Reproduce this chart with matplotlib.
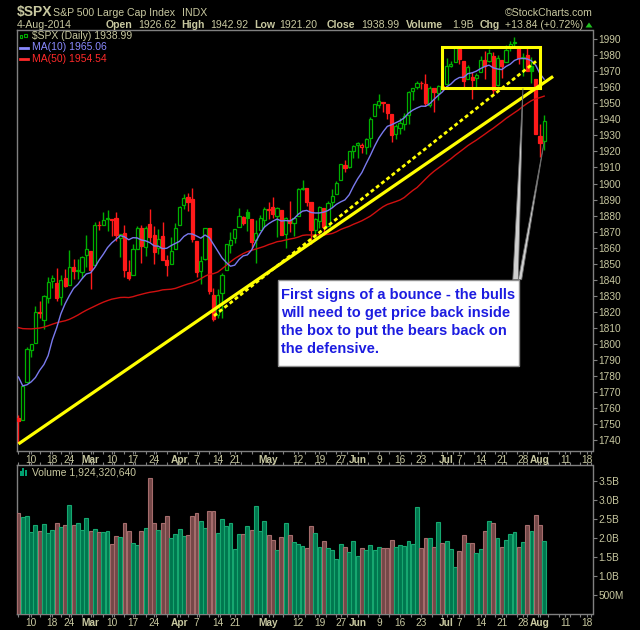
import numpy as np
import pandas as pd
import matplotlib
matplotlib.use("Agg")
import matplotlib.pyplot as plt
from matplotlib.patches import Rectangle, Polygon

plt.rcParams["font.family"] = ["Liberation Sans", "DejaVu Sans"]

# --- data -----------------------------------------------------------------
# closes before the first candle (needed to start the moving averages)
prior_closes = [
    1804.76, 1802.48, 1802.75, 1807.23, 1805.81,
    1800.90, 1795.15, 1792.81, 1785.03, 1805.09, 1808.37, 1802.62, 1782.22,
    1775.50, 1775.32, 1786.54, 1781.00, 1810.65, 1809.60, 1818.32, 1827.99,
    1833.32, 1842.02, 1841.40, 1841.07, 1848.36,
    1831.98, 1831.37, 1826.77, 1837.88, 1837.49, 1838.13, 1842.37, 1819.20,
    1838.88, 1848.38, 1845.89, 1838.70, 1843.80, 1844.86, 1828.46, 1790.29,
    1781.56, 1792.50, 1774.20, 1794.19, 1782.59,
    1741.89, 1755.20,
]

opens = [
    1753.38, 1752.62, 1776.01, 1796.20, 1800.45, 1820.12, 1814.82, 1828.46, 1839.03, 1838.22,
    1829.24, 1841.07, 1836.78, 1847.66, 1845.79, 1844.90, 1855.12, 1857.68, 1849.23, 1874.05,
    1874.18, 1878.52, 1877.86, 1878.26, 1866.15, 1869.06, 1845.07, 1842.81, 1858.92, 1872.25,
    1860.09, 1874.53, 1867.67, 1859.48, 1867.09, 1852.11, 1850.07, 1859.16, 1873.96, 1886.61,
    1891.43, 1890.25, 1863.92, 1845.48, 1852.64, 1872.28, 1830.65, 1818.18, 1831.45, 1846.01,
    1861.73, 1865.79, 1872.57, 1879.32, 1881.97, 1877.72, 1865.00, 1870.78, 1877.10, 1884.39,
    1885.30, 1879.45, 1883.69, 1868.53, 1877.39, 1875.27, 1880.03, 1896.75, 1897.13, 1888.16,
    1871.19, 1876.66, 1884.88, 1873.34, 1888.19, 1893.32, 1902.01, 1911.77, 1910.60, 1920.33,
    1923.87, 1923.07, 1923.06, 1928.52, 1942.41, 1948.97, 1950.34, 1949.37, 1943.35, 1930.80,
    1934.84, 1937.15, 1942.73, 1957.50, 1960.45, 1962.92, 1961.97, 1949.27, 1959.89, 1956.56,
    1960.79, 1962.29, 1973.06, 1975.88, 1984.22, 1976.39, 1965.10, 1966.67, 1965.76, 1969.86,
    1977.36, 1976.35, 1979.75, 1961.54, 1976.93, 1975.65, 1985.32, 1988.07, 1984.60, 1978.25,
    1980.03, 1973.21, 1965.14, 1929.80, 1926.62,
]
highs = [
    1755.79, 1774.06, 1798.03, 1799.94, 1823.54, 1826.55, 1830.25, 1841.65, 1842.87, 1847.50,
    1842.79, 1846.87, 1858.71, 1852.91, 1852.65, 1854.53, 1867.92, 1857.68, 1876.23, 1876.53,
    1881.94, 1883.57, 1877.87, 1882.35, 1868.38, 1874.40, 1852.44, 1862.30, 1873.76, 1874.14,
    1873.49, 1883.97, 1873.34, 1871.87, 1875.92, 1855.55, 1866.63, 1875.18, 1885.84, 1893.17,
    1893.80, 1897.28, 1864.04, 1854.95, 1872.43, 1872.53, 1835.07, 1834.19, 1844.02, 1862.31,
    1869.63, 1871.89, 1884.89, 1879.75, 1884.06, 1877.72, 1877.01, 1880.60, 1885.20, 1888.59,
    1891.33, 1885.51, 1883.69, 1878.83, 1889.07, 1878.57, 1897.13, 1902.17, 1897.13, 1888.16,
    1878.28, 1886.00, 1884.88, 1888.80, 1896.33, 1901.26, 1912.28, 1914.46, 1920.03, 1924.03,
    1925.88, 1925.07, 1928.63, 1941.74, 1949.44, 1955.55, 1950.86, 1949.37, 1943.35, 1937.30,
    1941.15, 1943.69, 1957.74, 1959.87, 1963.91, 1963.74, 1968.17, 1960.83, 1959.89, 1961.47,
    1964.24, 1978.58, 1976.67, 1985.59, 1984.22, 1976.39, 1974.15, 1969.84, 1968.67, 1979.85,
    1982.52, 1983.94, 1981.80, 1979.91, 1976.93, 1986.24, 1989.23, 1991.39, 1984.60, 1981.52,
    1984.85, 1978.90, 1965.14, 1937.35, 1942.92,
]
lows = [
    1737.92, 1752.62, 1776.01, 1791.83, 1800.41, 1815.97, 1809.22, 1825.59, 1835.01, 1826.99,
    1824.17, 1835.60, 1836.78, 1840.19, 1840.66, 1841.13, 1847.67, 1834.44, 1849.23, 1871.11,
    1874.18, 1870.56, 1867.04, 1863.88, 1854.38, 1841.86, 1839.57, 1842.81, 1858.92, 1850.35,
    1854.63, 1863.46, 1849.69, 1855.96, 1852.56, 1842.11, 1850.07, 1859.16, 1873.96, 1883.79,
    1882.65, 1863.26, 1841.48, 1837.49, 1852.38, 1830.87, 1814.36, 1815.80, 1816.29, 1846.01,
    1856.72, 1863.18, 1872.57, 1873.91, 1870.24, 1859.70, 1850.61, 1870.78, 1872.69, 1878.04,
    1878.50, 1866.77, 1867.72, 1859.79, 1870.05, 1867.02, 1880.03, 1896.06, 1885.77, 1862.36,
    1864.82, 1872.42, 1868.14, 1873.34, 1885.39, 1893.32, 1902.01, 1907.30, 1909.82, 1915.98,
    1915.98, 1918.79, 1918.60, 1922.93, 1942.41, 1947.16, 1944.64, 1940.08, 1925.78, 1927.69,
    1930.91, 1933.55, 1937.36, 1952.26, 1959.17, 1958.89, 1948.34, 1947.49, 1944.69, 1952.18,
    1958.22, 1962.29, 1972.58, 1975.88, 1974.88, 1959.46, 1965.10, 1952.86, 1959.63, 1969.86,
    1965.34, 1975.67, 1955.59, 1960.82, 1965.77, 1975.65, 1982.44, 1985.79, 1974.37, 1967.31,
    1969.95, 1962.42, 1930.67, 1916.37, 1921.20,
]
closes = [
    1751.64, 1773.43, 1797.02, 1799.84, 1819.75, 1819.26, 1829.83, 1838.63, 1840.76, 1828.75,
    1839.78, 1836.25, 1847.61, 1845.12, 1845.16, 1854.29, 1859.45, 1845.73, 1873.91, 1873.81,
    1877.03, 1878.04, 1877.17, 1867.63, 1868.20, 1846.34, 1841.13, 1858.83, 1872.25, 1860.77,
    1872.01, 1866.52, 1857.44, 1865.62, 1852.56, 1849.04, 1857.62, 1872.34, 1885.52, 1890.90,
    1888.77, 1865.09, 1845.04, 1851.96, 1872.18, 1833.08, 1815.69, 1830.61, 1842.98, 1862.31,
    1864.85, 1871.89, 1879.55, 1875.39, 1878.61, 1863.40, 1869.43, 1878.33, 1883.95, 1883.68,
    1881.14, 1884.66, 1867.72, 1878.21, 1875.63, 1878.48, 1896.65, 1897.45, 1888.53, 1870.85,
    1877.86, 1885.08, 1872.83, 1888.03, 1892.49, 1900.53, 1911.91, 1909.78, 1920.03, 1923.57,
    1924.97, 1924.24, 1927.88, 1940.46, 1949.44, 1951.27, 1950.79, 1943.89, 1930.11, 1936.16,
    1937.78, 1941.99, 1956.98, 1959.48, 1962.87, 1962.61, 1949.98, 1959.53, 1957.22, 1960.96,
    1960.23, 1973.32, 1974.62, 1985.44, 1977.65, 1963.71, 1972.83, 1964.68, 1967.57, 1977.10,
    1973.28, 1981.57, 1958.12, 1978.22, 1973.63, 1983.53, 1987.01, 1987.98, 1978.34, 1978.91,
    1969.95, 1970.07, 1930.67, 1925.15, 1938.99,
]
# volume in billions of shares
volumes_b = [
    2.64, 2.54, 2.56, 2.14, 2.33, 2.17, 2.35, 2.12, 2.20, 2.38,
    2.27, 2.33, 2.85, 2.33, 2.38, 2.20, 2.51, 2.17, 2.22, 2.14,
    2.14, 2.17, 1.83, 2.04, 2.01, 2.38, 2.17, 1.85, 1.80, 2.17,
    2.25, 3.57, 2.38, 2.20, 2.38, 2.56, 1.98, 2.09, 2.22, 2.04,
    2.06, 2.56, 2.64, 2.43, 2.25, 2.70, 2.70, 2.12, 2.49, 2.30,
    2.38, 1.69, 2.09, 2.09, 2.30, 2.20, 2.83, 2.17, 2.43, 2.06,
    1.93, 1.67, 2.01, 2.38, 2.06, 1.88, 1.83, 1.77, 1.72, 2.30,
    2.12, 1.75, 1.91, 1.73, 1.67, 1.44, 1.83, 1.75, 1.62, 1.91,
    1.52, 1.73, 1.67, 1.81, 1.67, 1.75, 1.73, 1.73, 1.94, 1.75,
    1.81, 1.78, 1.91, 1.83, 2.81, 1.73, 1.99, 1.99, 1.75, 2.41,
    1.86, 1.91, 1.70, 1.23, 1.65, 2.07, 1.86, 1.86, 1.60, 1.70,
    2.18, 2.44, 2.39, 1.99, 1.75, 1.94, 2.10, 2.15, 1.75, 1.89,
    2.34, 2.18, 2.60, 2.34, 1.924,
]

holidays = ["2014-02-17", "2014-04-18", "2014-05-26", "2014-07-04"]
tick_dates = [
    "2014-02-10", "2014-02-18", "2014-02-24", "2014-03-03", "2014-03-10",
    "2014-03-17", "2014-03-24", "2014-04-01", "2014-04-07", "2014-04-14",
    "2014-04-21", "2014-05-01", "2014-05-12", "2014-05-19", "2014-05-27",
    "2014-06-02", "2014-06-09", "2014-06-16", "2014-06-23", "2014-07-01",
    "2014-07-07", "2014-07-14", "2014-07-21", "2014-07-28", "2014-08-01",
    "2014-08-11", "2014-08-18",
]
tick_labels = [
    "10", "18", "24", "Mar", "10", "17", "24", "Apr", "7", "14", "21", "May",
    "12", "19", "27", "Jun", "9", "16", "23", "Jul", "7", "14", "21", "28",
    "Aug", "11", "18",
]
months = {"Mar", "Apr", "May", "Jun", "Jul", "Aug"}

# --- styles ---------------------------------------------------------------
BG = "black"
TXT = "#c8c8a0"
SPINE = "#808080"
GREEN = "#00b000"
RED = "#ff1a1a"
MA10_C = "#7a7aee"
MA50_C = "#d01010"
YEL = "#ffff00"

W, H = 640, 630


def fx(px):
    return px / W


def fy(py):
    return 1 - py / H


# trading calendar -> integer x positions
cal = pd.bdate_range("2014-02-05", "2014-08-29")
cal = cal[~cal.isin(pd.to_datetime(holidays))]
pos = {d: i for i, d in enumerate(cal)}
tick_pos = [pos[pd.Timestamp(d)] for d in tick_dates]

o = np.array(opens)
h = np.array(highs)
l = np.array(lows)
c = np.array(closes)
x = np.arange(len(c))
prev = np.r_[prior_closes[-1], c[:-1]]
up = c >= prev
col = np.where(up, GREEN, RED)
face = [BG if cc >= oo else cl for cc, oo, cl in zip(c, o, col)]

all_c = pd.Series(prior_closes + closes)
ma10 = all_c.rolling(10).mean().to_numpy()[len(prior_closes):]
ma50 = all_c.rolling(50).mean().to_numpy()[len(prior_closes):]

fig = plt.figure(figsize=(W / 100, H / 100), dpi=100, facecolor=BG)
axv = fig.add_axes([fx(16.7), fy(613.7), fx(592.5) - fx(16.7), fy(465.3) - fy(613.7)])
ax = fig.add_axes([fx(16.7), fy(451), fx(592.5) - fx(16.7), fy(29.5) - fy(451)])

xlim = (-0.42, 135.4)

# --- price panel ----------------------------------------------------------
ax.set_facecolor(BG)
ax.vlines(x, l, h, colors=col, lw=1, zorder=3)
ax.bar(x, np.maximum(np.abs(c - o), 0.4), bottom=np.minimum(o, c), width=0.75,
       color=face, edgecolor=col, lw=0.9, zorder=4)
ax.plot(x, ma50, color=MA50_C, lw=1, zorder=5)
ax.plot(x, ma10, color=MA10_C, lw=1, zorder=5)

# trendlines, box and callout
ax.plot([0, 126.1], [1737.5, 1966.8], color=YEL, lw=2.3, zorder=6,
        solid_capstyle="butt")
ax.plot([46.1, 122.2], [1817.4, 1976.5], color=YEL, lw=2.0, zorder=6,
        dashes=(1.4, 1.0))
ax.add_patch(Rectangle((99.8, 1959.9), 123.0 - 99.8, 1985.4 - 1959.9,
                       fill=False, edgecolor=YEL, lw=2.2, zorder=6))
for base, tip in [((116.6, 117.9), (119.0, 1959.4)), ((117.9, 118.7), (124.0, 1926.1))]:
    ax.add_patch(Polygon([(base[0], 1840.0), (base[1], 1840.0), tip], closed=True,
                         facecolor="#cfcfcf", edgecolor="#6a6a6a", lw=0.6, zorder=7))
ax.add_patch(Rectangle((61.2, 1786.4), 118.1 - 61.2, 1840.0 - 1786.4,
                       facecolor="white", edgecolor="#909090", lw=1, zorder=8))
ax.text(62.0, 1813.4,
        "First signs of a bounce - the bulls\nwill need to get price back inside\n"
        "the box to put the bears back on\nthe defensive.",
        color="#1c1ce0", fontsize=10.5, fontweight="bold", ha="left", va="center",
        linespacing=1.36, zorder=9)

ax.set_xlim(*xlim)
ax.set_ylim(1733.1, 1996.1)
ax.yaxis.tick_right()
ax.set_yticks(np.arange(1740, 1991, 10))
ax.tick_params(axis="y", direction="out", length=3, width=0.8, color=SPINE,
               labelcolor=TXT, labelsize=7.3, pad=1.5)

for a in (ax, axv):
    for s in a.spines.values():
        s.set_color(SPINE)
        s.set_linewidth(1)
    a.set_xticks(tick_pos)
    a.set_xticklabels(tick_labels)
    a.set_xticks(np.arange(0, 135.5, 2.5), minor=True)
    a.tick_params(axis="x", which="major", direction="out", length=2.5, width=0.8,
                  color=SPINE, labelcolor=TXT, labelsize=7.3, pad=0.5)
    a.tick_params(axis="x", which="minor", direction="out", length=2, width=0.8,
                  color=SPINE)
    for t in a.get_xticklabels():
        if t.get_text() in months:
            t.set_fontweight("bold")

# --- volume panel ---------------------------------------------------------
axv.set_facecolor(BG)
vface = np.where(up, "#00774f", "#744848")
vedge = np.where(up, "#16a870", "#a56c6c")
axv.bar(x, volumes_b, width=0.92, color=vface, edgecolor=vedge, lw=0.8, zorder=3)
axv.set_xlim(*xlim)
axv.set_ylim(0, 3.905)
axv.yaxis.tick_right()
vt = [0.5, 1.0, 1.5, 2.0, 2.5, 3.0, 3.5]
axv.set_yticks(vt)
axv.set_yticklabels(["500M", "1.0B", "1.5B", "2.0B", "2.5B", "3.0B", "3.5B"])
axv.tick_params(axis="y", direction="out", length=3, width=0.8, color=SPINE,
                labelcolor=TXT, labelsize=7.3, pad=1.5)
axv.tick_params(axis="x", which="both", top=True)

# --- header and legends ---------------------------------------------------
fig.text(fx(16.3), fy(12), "$SPX", color=TXT, fontsize=10, fontweight="bold", va="center")
fig.text(fx(53), fy(12.5), "S&P 500 Large Cap Index", color=TXT, fontsize=7.6, va="center")
fig.text(fx(182), fy(12.5), "INDX", color=TXT, fontsize=7.6, va="center")
fig.text(fx(593), fy(12.5), "\u00a9StockCharts.com", color=TXT, fontsize=7.6,
         va="center", ha="right")

fig.text(fx(16.3), fy(24.5), "4-Aug-2014", color=TXT, fontsize=7.6, va="center")
head = [("Open", 105.3, True), ("1926.62", 138, False), ("High", 181.6, True),
        ("1942.92", 210, False), ("Low", 254, True), ("1921.20", 279.6, False),
        ("Close", 326.5, True), ("1938.99", 361, False), ("Volume", 406, True),
        ("1.9B", 452, False), ("Chg", 479.6, True), ("+13.84 (+0.72%)", 505, False)]
for s, px, bold in head:
    fig.text(fx(px), fy(24.5), s, color=TXT, fontsize=7.6, va="center",
             fontweight="bold" if bold else "normal")
fig.patches.append(Polygon([(fx(585.5), fy(27.5)), (fx(592.5), fy(27.5)), (fx(589), fy(22.5))],
                           closed=True, facecolor="#20c020", edgecolor="none",
                           transform=fig.transFigure, figure=fig))

# legend inside the price panel
fig.text(fx(31.5), fy(36.3), "$SPX (Daily) 1938.99", color=TXT, fontsize=7.5, va="center")
fig.text(fx(31.5), fy(47.5), "MA(10) 1965.06", color="#8a8aff", fontsize=7.5, va="center")
fig.text(fx(31.5), fy(58.5), "MA(50) 1954.54", color="#ff2a2a", fontsize=7.5, va="center")
for (x0, y0, ww, hh) in [(19.5, 34.5, 2.5, 3.5), (24.0, 33.5, 2.5, 3.5)]:
    fig.patches.append(Rectangle((fx(x0), fy(y0 + hh)), ww / W, hh / H, fill=False,
                                 edgecolor=GREEN, lw=0.8, transform=fig.transFigure,
                                 figure=fig))
fig.lines.append(plt.Line2D([fx(20), fx(28)], [fy(47.5), fy(47.5)], color="#8a8aff",
                            lw=2, transform=fig.transFigure))
fig.lines.append(plt.Line2D([fx(20), fx(28)], [fy(58.5), fy(58.5)], color="#ff2a2a",
                            lw=2, transform=fig.transFigure))

fig.text(fx(31.5), fy(472.7), "Volume 1,924,320,640", color=TXT, fontsize=7.5, va="center")
for (x0, hh) in [(19.5, 5), (22.3, 8), (25.1, 6)]:
    fig.patches.append(Rectangle((fx(x0), fy(476)), 2.0 / W, hh / H, facecolor="#00a070",
                                 edgecolor="none", transform=fig.transFigure, figure=fig))

fig.savefig("out.png", dpi=100, facecolor=BG)
